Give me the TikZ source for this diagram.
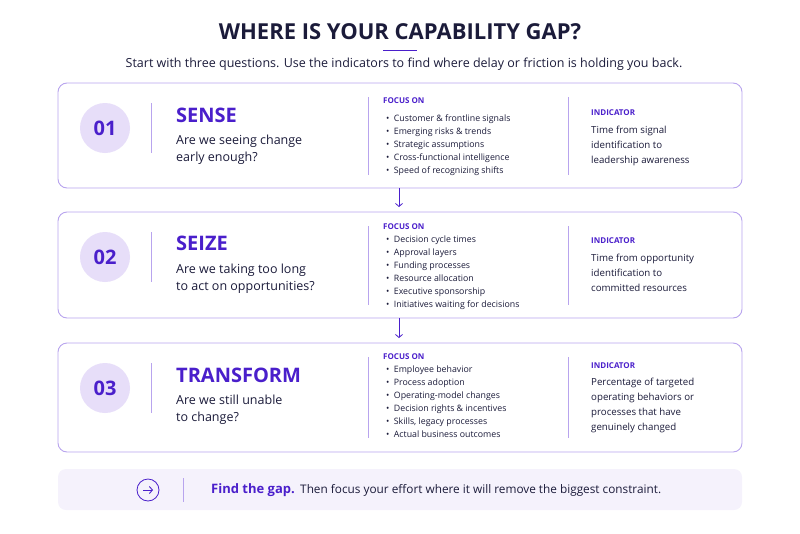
\documentclass[tikz,border=0pt]{standalone}
\usepackage{fontspec}
\setmainfont{Open Sans}
\usetikzlibrary{arrows.meta}
\usetikzlibrary{positioning}
\definecolor{ink}{HTML}{1B1B3A}
\definecolor{violet}{HTML}{4A1FCB}
\definecolor{edge}{HTML}{B8A4EE}
\definecolor{disc}{HTML}{E7DEF9}
\definecolor{band}{HTML}{F5F2FC}
\tikzset{
  panel/.style={draw=edge, line width=0.9pt, rounded corners=9pt, fill=white},
  num/.style={circle, fill=disc, minimum size=50pt, inner sep=0pt, text=violet, font=\fontsize{20}{20}\selectfont\bfseries},
  head/.style={anchor=west, inner sep=0pt, text=violet, font=\fontsize{20}{20}\selectfont\bfseries},
  ask/.style={anchor=north west, inner sep=0pt, align=left, text=ink, font=\fontsize{12.5}{17}\selectfont},
  tag/.style={anchor=west, inner sep=0pt, text=violet, font=\fontsize{8}{8}\selectfont\bfseries},
  items/.style={anchor=north west, inner sep=0pt, align=left, text=ink, font=\fontsize{8.8}{13}\selectfont},
  note/.style={anchor=north west, inner sep=0pt, align=left, text=ink, font=\fontsize{9.7}{15}\selectfont},
  rule/.style={draw=edge, line width=0.8pt},
  nextstep/.style={draw=violet, line width=0.8pt, -{Straight Barb[length=3pt,width=7pt]}}
}
\begin{document}
\begin{tikzpicture}[x=1pt, y=-1pt]
  \useasboundingbox (0,0) rectangle (800,533);
  % header
  \node[text=ink, font=\fontsize{22}{22}\selectfont\bfseries] (title) at (400,32) {WHERE IS YOUR CAPABILITY GAP?};
  \draw[violet, line width=0.8pt] (383,50) -- (417,50);
  \node[text=ink, font=\fontsize{12.5}{12}\selectfont] (sub) at (404,64) {Start with three questions. Use the indicators to find where delay or friction is holding you back.};
  % sense
  \draw[panel] (58,83) rectangle (742,188);
  \node[num] (n1) at (105,128) {01};
  \draw[rule] (151,103) -- (151,153);
  \node[head] (h1) at (176,115) {SENSE};
  \node[ask] (q1) at (176,135) {Are we seeing change\\early enough?};
  \draw[rule, line width=0.5pt] (368,97) -- (368,175);
  \node[tag] (f1) at (383,101) {FOCUS ON};
  \node[items] (l1) at (386,115) {\textbullet\enspace Customer \& frontline signals\\\textbullet\enspace Emerging risks \& trends\\\textbullet\enspace Strategic assumptions\\\textbullet\enspace Cross-functional intelligence\\\textbullet\enspace Speed of recognizing shifts};
  \draw[rule, line width=0.5pt] (568,97) -- (568,175);
  \node[tag] (i1) at (591,113) {INDICATOR};
  \node[note] (t1) at (591,126) {Time from signal\\identification to\\leadership awareness};
  % seize
  \draw[panel] (58,212) rectangle (742,318);
  \node[num] (n2) at (105,257) {02};
  \draw[rule] (151,232) -- (151,282);
  \node[head] (h2) at (176,243) {SEIZE};
  \node[ask] (q2) at (176,264) {Are we taking too long\\to act on opportunities?};
  \draw[rule, line width=0.5pt] (368,226) -- (368,305);
  \node[tag] (f2) at (383,227) {FOCUS ON};
  \node[items] (l2) at (386,236) {\textbullet\enspace Decision cycle times\\\textbullet\enspace Approval layers\\\textbullet\enspace Funding processes\\\textbullet\enspace Resource allocation\\\textbullet\enspace Executive sponsorship\\\textbullet\enspace Initiatives waiting for decisions};
  \draw[rule, line width=0.5pt] (568,226) -- (568,305);
  \node[tag] (i2) at (591,241) {INDICATOR};
  \node[note] (t2) at (591,254) {Time from opportunity\\identification to\\committed resources};
  % transform
  \draw[panel] (58,343) rectangle (742,452);
  \node[num] (n3) at (105,388) {03};
  \draw[rule] (151,363) -- (151,413);
  \node[head] (h3) at (176,375) {TRANSFORM};
  \node[ask] (q3) at (176,395) {Are we still unable\\to change?};
  \draw[rule, line width=0.5pt] (368,357) -- (368,438);
  \node[tag] (f3) at (383,357) {FOCUS ON};
  \node[items] (l3) at (386,366) {\textbullet\enspace Employee behavior\\\textbullet\enspace Process adoption\\\textbullet\enspace Operating-model changes\\\textbullet\enspace Decision rights \& incentives\\\textbullet\enspace Skills, legacy processes\\\textbullet\enspace Actual business outcomes};
  \draw[rule, line width=0.5pt] (568,357) -- (568,438);
  \node[tag] (i3) at (591,366) {INDICATOR};
  \node[note] (t3) at (591,378) {Percentage of targeted\\operating behaviors or\\processes that have\\genuinely changed};
  % flow between panels
  \coordinate (a1) at (399,188);
  \coordinate (b1) at (399,207);
  \coordinate (a2) at (399,318);
  \coordinate (b2) at (399,338);
  \draw[nextstep] (a1) -- (b1);
  \draw[nextstep] (a2) -- (b2);
  % closing band
  \fill[band, rounded corners=8pt] (58,469) rectangle (742,510);
  \node[circle, draw=violet, line width=0.8pt, minimum size=22pt, inner sep=0pt] (go) at (148,490) {};
  \draw[violet, line width=0.9pt, -{Straight Barb[length=3pt,width=7pt]}] ([xshift=-5pt]go.center) -- ([xshift=5pt]go.center);
  \draw[rule] (183,478) -- (183,502);
  \node[anchor=west, inner sep=0pt, text=violet, font=\fontsize{13}{13}\selectfont\bfseries] (gap) at (211,490) {Find the gap.};
  \node[anchor=west, inner sep=0pt, text=ink, font=\fontsize{11.8}{12}\selectfont] (rest) at ([xshift=5pt]gap.east) {Then focus your effort where it will remove the biggest constraint.};
\end{tikzpicture}
\end{document}
